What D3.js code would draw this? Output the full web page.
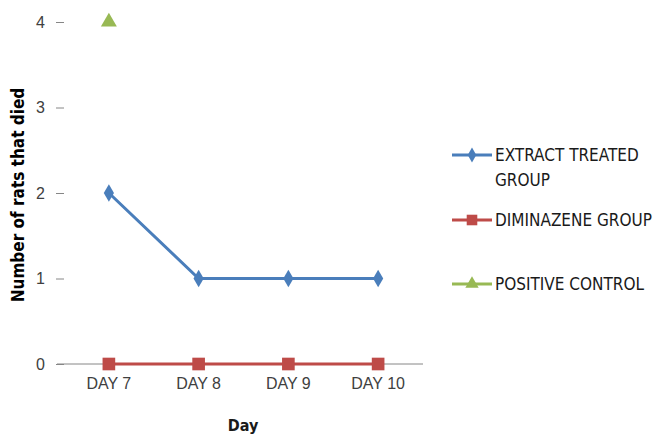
<!DOCTYPE html>
<html>
  <head>
    <meta charset="UTF-8" />
    <style>
      body {
        margin: 0;
        background-color: #ffffff;
      }
      svg {
        font-family: "Liberation Sans Narrow", "DejaVu Sans Condensed", "Liberation Sans", sans-serif;
      }
      .tick text {
        fill: #404040;
      }
    </style>
  </head>
  <body>
    <svg width="660" height="435"></svg>

    <script src="https://d3js.org/d3.v7.min.js"></script>
    <script>
      // data
      const days = ["DAY 7", "DAY 8", "DAY 9", "DAY 10"];
      const extractTreated = [2, 1, 1, 1];
      const diminazene = [0, 0, 0, 0];
      const positiveControl = [4, null, null, null];
      const yTicks = [0, 1, 2, 3, 4];

      const series = [
        { name: ["EXTRACT TREATED", "GROUP"], values: extractTreated, color: "#4a7ebb", symbol: d3.symbolDiamond, size: 90, legendY: 155 },
        { name: ["DIMINAZENE GROUP"], values: diminazene, color: "#be4b48", symbol: d3.symbolSquare, size: 160, legendY: 220 },
        { name: ["POSITIVE CONTROL"], values: positiveControl, color: "#98b954", symbol: d3.symbolTriangle, size: 110, legendY: 284 },
      ];

      const plotLeft = 64, plotRight = 423, plotTop = 22, plotBottom = 364;
      const svg = d3.select("svg");

      const xScale = d3.scaleBand().domain(days).range([plotLeft, plotRight]);
      const yScale = d3.scaleLinear().domain([0, 4]).range([plotBottom, plotTop]);
      const xc = (d) => xScale(d) + xScale.bandwidth() / 2;

      // y axis (no line, just ticks)
      const yAxis = svg
        .append("g")
        .attr("transform", `translate(${plotLeft},0)`)
        .call(d3.axisLeft(yScale).tickValues(yTicks).tickFormat(d3.format("d")).tickSize(8).tickPadding(11));
      yAxis.select(".domain").remove();
      yAxis.selectAll(".tick line").attr("stroke", "#868686");
      yAxis.selectAll(".tick text").style("font-size", "16px");

      // x axis line at zero
      const xAxis = svg
        .append("g")
        .attr("transform", `translate(0,${plotBottom})`)
        .call(d3.axisBottom(xScale).tickSize(0).tickPadding(14));
      xAxis.select(".domain").attr("stroke", "#868686").attr("d", `M${plotLeft - 7},0H${plotRight}`);
      xAxis.selectAll(".tick text").style("font-size", "16px");

      // lines and markers
      series.forEach((s) => {
        const pts = days.map((d, i) => ({ day: d, v: s.values[i] }));
        const line = d3
          .line()
          .defined((p) => p.v !== null)
          .x((p) => xc(p.day))
          .y((p) => yScale(p.v));
        svg.append("path").datum(pts).attr("d", line).attr("fill", "none").attr("stroke", s.color).attr("stroke-width", 3);
        svg
          .selectAll(null)
          .data(pts.filter((p) => p.v !== null))
          .enter()
          .append("path")
          .attr("d", d3.symbol().type(s.symbol).size(s.size))
          .attr("transform", (p) => `translate(${xc(p.day)},${yScale(p.v)})`)
          .attr("fill", s.color);
      });

      // legend
      const legend = svg.append("g");
      series.forEach((s) => {
        legend
          .append("line")
          .attr("x1", 452)
          .attr("x2", 492)
          .attr("y1", s.legendY)
          .attr("y2", s.legendY)
          .attr("stroke", s.color)
          .attr("stroke-width", 3);
        legend
          .append("path")
          .attr("d", d3.symbol().type(s.symbol).size(s.size * 0.7))
          .attr("transform", `translate(472,${s.legendY})`)
          .attr("fill", s.color);
        const t = legend
          .append("text")
          .attr("x", 495)
          .attr("y", s.legendY + 6)
          .style("font-size", "17px")
          .attr("fill", "#1a1a1a");
        s.name.forEach((n, i) => {
          t.append("tspan").attr("x", 495).attr("dy", i === 0 ? 0 : 25).text(n);
        });
      });

      // axis titles
      svg
        .append("text")
        .attr("transform", "rotate(-90)")
        .attr("x", -195)
        .attr("y", 24)
        .attr("text-anchor", "middle")
        .style("font-size", "17px")
        .style("font-weight", "bold")
        .text("Number of rats that died");

      svg
        .append("text")
        .attr("x", 243)
        .attr("y", 431)
        .attr("text-anchor", "middle")
        .style("font-size", "16px")
        .style("font-weight", "bold")
        .attr("fill", "#1a1a1a")
        .text("Day");
    </script>
  </body>
</html>
